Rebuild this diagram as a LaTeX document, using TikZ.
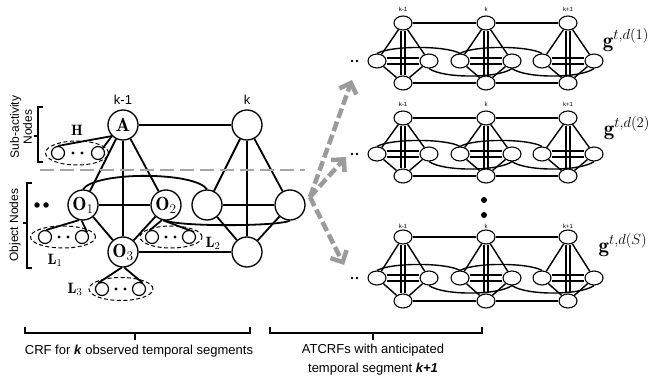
\RequirePackage{fix-cm}
\documentclass[tikz,border=0pt]{standalone}
\usepackage{fontspec}
\setsansfont{Liberation Sans}
\usetikzlibrary{arrows.meta,shapes.geometric,backgrounds}
\definecolor{flowgray}{RGB}{155,155,155}
\definecolor{sepgray}{RGB}{165,165,165}

\tikzset{
  big/.style={circle,draw,line width=1.3pt,minimum size=30pt,inner sep=0pt,fill=white,font=\fontsize{19}{19}\selectfont},
  leaf/.style={circle,draw,line width=1.2pt,minimum size=13pt,inner sep=0pt,fill=white},
  sm/.style={ellipse,draw,line width=1.1pt,minimum width=18pt,minimum height=14pt,inner sep=0pt,fill=white},
  grp/.style={ellipse,draw,line width=1pt,dash pattern=on 4pt off 2.5pt,inner sep=0pt},
  link/.style={line width=1.8pt},
  slink/.style={line width=1.4pt},
  lbl/.style={font=\fontsize{15}{15}\selectfont},
  seqlbl/.style={font=\sffamily\fontsize{13}{13}\selectfont},
  tlab/.style={font=\sffamily\fontsize{6}{6}\selectfont},
  glbl/.style={font=\fontsize{21}{21}\selectfont},
  blob/.style={circle,fill,inner sep=0pt,minimum size=#1},
  brace/.style={line width=1.3pt},
  sepline/.style={sepgray,line width=2.5pt,dash pattern=on 14pt off 6pt},
  flow/.style={flowgray,line width=4.5pt,dash pattern=on 10pt off 4pt,-{Straight Barb[length=9pt,width=18pt]}},
}

% one anticipated CRF: #1 name prefix, #2 label y, #3 top row y, #4 middle row y, #5 bottom row y
\newcommand\crfrow[5]{%
  \foreach \c/\x/\lab in {1/403/k-1, 2/486/k, 3/568/k+1} {
    \node[tlab] (#1k\c) at (\x,#2) {\lab};
    \node[sm] (#1t\c) at (\x,#3) {};
    \node[sm] (#1l\c) at (\x-26,#4) {};
    \node[sm] (#1r\c) at (\x+26,#4) {};
    \node[sm] (#1b\c) at (\x,#5) {};
  }
  \node[blob=2.8pt] (#1d1) at (352,#4) {};
  \node[blob=2.8pt] (#1d2) at (357,#4) {};
  \begin{scope}[on background layer]
  \begin{scope}[slink]
    \foreach \c in {1,2,3} {
      \draw (#1t\c) -- (#1l\c);
      \draw (#1t\c) -- (#1r\c);
      \draw (#1l\c) -- (#1b\c);
      \draw (#1r\c) -- (#1b\c);
      \draw ([xshift=-2pt]#1t\c.south) -- ([xshift=-2pt]#1b\c.north);
      \draw ([xshift=2pt]#1t\c.south) -- ([xshift=2pt]#1b\c.north);
      \draw ([yshift=3pt]#1l\c.east) -- ([yshift=3pt]#1r\c.west);
      \draw ([yshift=-3pt]#1l\c.east) -- ([yshift=-3pt]#1r\c.west);
    }
    \draw (#1t1) -- (#1t2) -- (#1t3);
    \draw (#1b1) -- (#1b2) -- (#1b3);
    \foreach \c/\d in {1/2,2/3} {
      \draw (#1l\c.north) .. controls +(14,-8) and +(-14,-8) .. (#1l\d.north);
      \draw (#1r\c.south) .. controls +(14,10) and +(-14,10) .. (#1r\d.south);
    }
  \end{scope}
  \end{scope}
}

\begin{document}
\begin{tikzpicture}[x=1pt,y=-1pt]
\useasboundingbox (0,0) rectangle (656,387);

% ---------- observed CRF ----------
\node[big] (A) at (123,125) {$\mathbf{A}$};
\node[big] (T) at (247,125) {};
\node[big] (O1) at (83,205) {$\mathbf{O}_1$};
\node[big] (O2) at (166,205) {$\mathbf{O}_2$};
\node[big] (O3) at (123,252) {$\mathbf{O}_3$};
\node[big] (R1) at (207,205) {};
\node[big] (R2) at (290,205) {};
\node[big] (R3) at (247,252) {};

\node[seqlbl] (kA) at (123,100) {k-1};
\node[seqlbl] (kT) at (247,100) {k};

% sub-activity and object affordance leaves
\node[grp,minimum width=63pt,minimum height=24pt] (gH) at (77,153) {};
\node[leaf] (h1) at (58,153) {};
\node[leaf] (h2) at (98,153) {};
\node[blob=3.2pt] (hd1) at (73,153) {};
\node[blob=3.2pt] (hd2) at (82,153) {};
\node[lbl] (Hl) at (77,130) {$\mathbf{H}$};

\node[grp,minimum width=65pt,minimum height=22pt] (gL1) at (63,237) {};
\node[leaf] (l11) at (45,237) {};
\node[leaf] (l12) at (82,237) {};
\node[blob=3.2pt] (l1d1) at (59,237) {};
\node[blob=3.2pt] (l1d2) at (68,237) {};
\node[lbl] (L1) at (55,260) {$\mathbf{L}_1$};

\node[grp,minimum width=62pt,minimum height=22pt] (gL2) at (171,237) {};
\node[leaf] (l21) at (152,237) {};
\node[leaf] (l22) at (189,237) {};
\node[blob=3.2pt] (l2d1) at (166,237) {};
\node[blob=3.2pt] (l2d2) at (175,237) {};
\node[lbl] (L2) at (213,243) {$\mathbf{L}_2$};

\node[grp,minimum width=64pt,minimum height=23pt] (gL3) at (121,289) {};
\node[leaf] (l31) at (102,289) {};
\node[leaf] (l32) at (139,289) {};
\node[blob=3.2pt] (l3d1) at (116,289) {};
\node[blob=3.2pt] (l3d2) at (125,289) {};
\node[lbl] (L3) at (75,289) {$\mathbf{L}_3$};

\node[blob=5.5pt] (od1) at (37,205) {};
\node[blob=5.5pt] (od2) at (46,205) {};

\begin{scope}[on background layer]
\begin{scope}[link]
  \draw (A) -- (T);
  \draw (A) -- (O1);
  \draw (A) -- (O2);
  \draw (A) -- (O3);
  \draw (O1) -- (O2);
  \draw (O1) -- (O3);
  \draw (O2) -- (O3);
  \draw (O3) -- (R3);
  \draw (T) -- (R1);
  \draw (T) -- (R2);
  \draw (T) -- (R3);
  \draw (R1) -- (R2);
  \draw (R1) -- (R3);
  \draw (R2) -- (R3);
  \draw (O1.north) .. controls +(12,-18) and +(-12,-18) .. (R1.north);
  \draw (O2.south) .. controls +(14,6) and +(-14,6) .. (R2.south);
  \draw (A.225) -- (h1.north);
  \draw (A.225) -- (h2.45);
  \draw (O1.255) -- (l11.80);
  \draw (O1.265) -- (l12.45);
  \draw (O2.255) -- (l21.110);
  \draw (O2.260) -- (l22.45);
  \draw (O3.265) -- (l31.120);
  \draw (O3.275) -- (l32.60);
\end{scope}
\end{scope}

% node-type brackets
\draw[brace] (43,107) -- (38,107) -- (38,162) -- (43,162);
\draw[brace] (38,136) -- (34,136);
\node[rotate=90,align=center,font=\sffamily\fontsize{12}{13}\selectfont] (subl) at (21,127) {Sub-activity\\Nodes};
\draw[brace] (32,183) -- (27,183) -- (27,268) -- (32,268);
\draw[brace] (27,223) -- (23,223);
\node[rotate=90,font=\sffamily\fontsize{12}{13}\selectfont] (objl) at (15,225) {Object Nodes};

% separator between sub-activity and object layers
\coordinate (s1) at (40,170);
\coordinate (s2) at (305,170);
\draw[sepline] (s1) -- (s2);

% ---------- anticipated CRFs ----------
\crfrow{a}{9}{23}{61}{83}
\crfrow{b}{104}{118}{154}{176}
\crfrow{c}{226}{237}{278}{301}

\node[glbl] (g1) at (626,40) {$\mathbf{g}^{t,d(1)}$};
\node[glbl] (g2) at (627,128) {$\mathbf{g}^{t,d(2)}$};
\node[glbl] (g3) at (623,245) {$\mathbf{g}^{t,d(S)}$};

\node[blob=6pt] (v1) at (484,200) {};
\node[blob=6pt] (v2) at (484,215) {};

% sampling arrows
\coordinate (src) at (310,197);
\coordinate (to1) at (352,80);
\coordinate (to2) at (346,157);
\coordinate (to3) at (344,265);
\draw[flow] (src) -- (to1);
\draw[flow] (src) -- (to2);
\draw[flow] (src) -- (to3);

% bottom braces and captions
\draw[brace] (25,327) -- (25,333) -- (250,333) -- (250,327);
\draw[brace] (135,333) -- (135,340);
\draw[brace] (270,327) -- (270,333) -- (482,333) -- (482,327);
\draw[brace] (373,333) -- (373,340);
\node[seqlbl] (cap1) at (139,351) {CRF for \textbf{\textit{k}} observed temporal segments};
\node[seqlbl,align=center,font=\sffamily\fontsize{13}{19}\selectfont] (cap2) at (373,360) {ATCRFs with anticipated\\temporal segment \textbf{\textit{k+1}}};
\end{tikzpicture}
\end{document}
